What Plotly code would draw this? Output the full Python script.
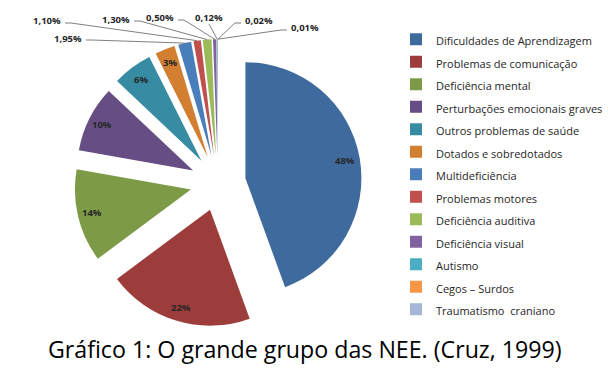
import math
import plotly.graph_objects as go

categories = ["Dificuldades de Aprendizagem", "Problemas de comunicação", "Deficiência mental",
              "Perturbações emocionais graves", "Outros problemas de saúde", "Dotados e sobredotados",
              "Multideficiência", "Problemas motores", "Deficiência auditiva", "Deficiência visual",
              "Autismo", "Cegos – Surdos", "Traumatismo  craniano"]
values = [48, 22, 14, 10, 6, 3, 1.95, 1.10, 1.30, 0.50, 0.12, 0.02, 0.01]
value_labels = ["48%", "22%", "14%", "10%", "6%", "3%", "1,95%", "1,10%", "1,30%",
                "0,50%", "0,12%", "0,02%", "0,01%"]
colors = ["#3F6A9E", "#9C3D3B", "#7D9A47", "#664E84", "#378CA3", "#D27F32",
          "#4A7EBB", "#C0504D", "#9BBB59", "#8064A2", "#4BACC6", "#F79646", "#A5B6D8"]

W, H = 608, 371


def px(X):  # pixel x -> paper x
    return X / W


def py(Y):  # pixel y (from top) -> paper y
    return 1 - Y / H


CX, CY = 218, 183      # pie centre (px)
R = 116                # radius (px)
PULL = 0.24
n_inside = 6

S = 2 * R * (1 + PULL)
dom_x = [px(CX - S / 2), px(CX + S / 2)]
dom_y = [py(CY + S / 2), py(CY - S / 2)]

legend_names = ['<span style="font-size:11px">%s</span>' % c for c in categories]

fig = go.Figure(go.Pie(
    labels=legend_names,
    values=values,
    textinfo="none",
    marker=dict(colors=colors, line=dict(width=0)),
    sort=False,
    direction="clockwise",
    rotation=0,
    pull=PULL,
    domain=dict(x=dom_x, y=dom_y),
    hoverinfo="skip",
))

label_font = dict(family="Open Sans", size=9.5, color="#262626", weight="bold")
label_pos = {6: (68, 38), 7: (47, 21), 8: (116, 19), 9: (160, 18), 10: (209, 18), 11: (259, 21), 12: (305, 28)}
total = sum(values)
cum = 0
annotations = []
shapes = []
for i, v in enumerate(values):
    mid = 2 * math.pi * (cum + v / 2) / total
    cum += v
    if i < n_inside:
        d = R * (1 + PULL) * 0.9
        annotations.append(dict(x=px(CX + d * math.sin(mid)), y=py(CY - d * math.cos(mid)),
                                xref="paper", yref="paper", text=value_labels[i], showarrow=False,
                                xanchor="center", yanchor="middle", font=label_font))
        continue
    rr = R * (1 + PULL)
    tx = CX + rr * math.sin(mid)
    ty = CY - rr * math.cos(mid)
    lx, ly = label_pos[i]
    annotations.append(dict(x=px(lx), y=py(ly), xref="paper", yref="paper", text=value_labels[i],
                            showarrow=False, xanchor="center", yanchor="middle", font=label_font))
    if lx < tx - 20:
        sx = lx + 18
        path = "M %f %f L %f %f L %f %f" % (px(sx), py(ly + 2), px(sx + 6), py(ly + 2), px(tx), py(ty))
    elif lx > tx + 20:
        sx = lx - 18
        path = "M %f %f L %f %f L %f %f" % (px(sx), py(ly + 2), px(sx - 6), py(ly + 2), px(tx), py(ty))
    else:
        path = "M %f %f L %f %f" % (px(lx), py(ly + 6), px(tx), py(ty))
    shapes.append(dict(type="path", path=path, xref="paper", yref="paper",
                       line=dict(color="#7F7F7F", width=1)))

annotations.append(dict(x=px(304.5), y=py(348.5), xref="paper", yref="paper",
                        text="Gráfico 1: O grande grupo das NEE. (Cruz, 1999)", showarrow=False,
                        xanchor="center", yanchor="middle",
                        font=dict(family="Open Sans", size=23.2, color="#000000")))

fig.update_layout(
    width=W, height=H,
    margin=dict(l=0, r=0, t=0, b=0),
    paper_bgcolor="white", plot_bgcolor="white",
    showlegend=True,
    legend=dict(x=px(396), y=py(23), xanchor="left", yanchor="top",
                font=dict(family="Open Sans", size=15, color="#262626"),
                bgcolor="rgba(0,0,0,0)"),
    annotations=annotations,
    shapes=shapes,
)

fig.write_html("out.html", config={"displayModeBar": False},
               post_script="document.body.style.margin='0';document.body.style.overflow='hidden';")
